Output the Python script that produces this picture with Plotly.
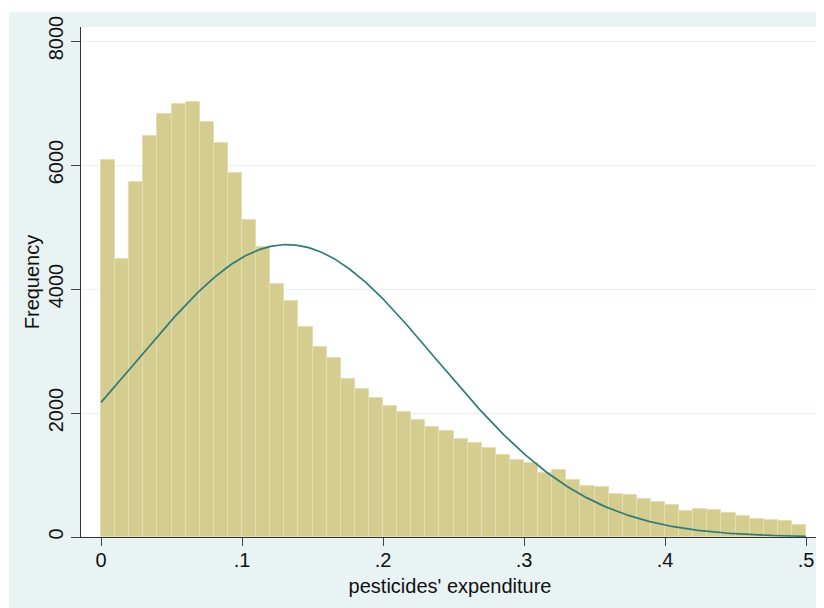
import numpy as np
import plotly.graph_objects as go

# Histogram bins (left edges) and frequencies
bin_width = 0.01
bin_left = [round(i * 0.01, 2) for i in range(50)]
freq = [6080, 4480, 5730, 6470, 6830, 6980, 7020, 6690, 6360, 5870,
        5120, 4670, 4080, 3800, 3390, 3060, 2890, 2550, 2380, 2240,
        2120, 2020, 1890, 1770, 1710, 1580, 1520, 1440, 1320, 1240,
        1190, 1030, 1080, 920, 830, 800, 700, 680, 610, 565,
        520, 425, 450, 430, 395, 335, 295, 280, 255, 195]

# Normal overlay parameters (estimated from the drawn curve)
norm_mean = 0.132
norm_sd = 0.106
n_obs = sum(freq)

x_ticks = [0, 0.1, 0.2, 0.3, 0.4, 0.5]
x_ticktext = ["0", ".1", ".2", ".3", ".4", ".5"]
y_ticks = [0, 2000, 4000, 6000, 8000]
y_ticktext = ["0", "2000", "4000", "6000", "8000"]

bar_x = [b + bin_width / 2 for b in bin_left]

xs = np.linspace(0, 0.5, 400)
ys = n_obs * bin_width / (norm_sd * np.sqrt(2 * np.pi)) * np.exp(-(xs - norm_mean) ** 2 / (2 * norm_sd ** 2))

FONT = "Liberation Sans, Arial, sans-serif"
BG = "#EAF3F4"
FS = 20

fig = go.Figure()
fig.add_trace(go.Bar(
    x=bar_x, y=freq, width=bin_width,
    marker=dict(color="#D4CD8F", line=dict(color="#E4DEB3", width=1)),
    hoverinfo="x+y", showlegend=False,
))
fig.add_trace(go.Scatter(
    x=xs, y=ys, mode="lines",
    line=dict(color="#2F7C77", width=1.7),
    showlegend=False, hoverinfo="skip",
))

# page body has an 8px margin, so the figure is drawn at (8, 8)
W, H = 816, 600
L, T = 73, 19
R, B = 5, 71
pw, ph = W - L - R, H - T - B

fig.update_layout(
    width=W, height=H,
    margin=dict(l=L, r=R, t=T, b=B, pad=0, autoexpand=False),
    paper_bgcolor="white",
    plot_bgcolor="white",
    bargap=0,
    font=dict(family=FONT, size=FS, color="#111111"),
    shapes=[
        dict(type="rect", xref="paper", yref="paper", layer="below",
             x0=(1 - L) / pw, x1=(W - L) / pw,
             y0=-B / ph, y1=(H - B - 4) / ph,
             fillcolor=BG, line=dict(width=0)),
        dict(type="rect", xref="paper", yref="paper", layer="below",
             x0=0, x1=1, y0=0, y1=1,
             fillcolor="white", line=dict(width=0)),
    ],
    xaxis=dict(
        range=[-0.0142, 0.5092],
        automargin=False,
        tickvals=x_ticks, ticktext=x_ticktext,
        ticks="outside", ticklen=8, tickwidth=1, tickcolor="#444444",
        ticklabelstandoff=-3,
        showline=True, linecolor="#333333", linewidth=1,
        showgrid=False, zeroline=False,
        tickfont=dict(size=FS),
        title=dict(text="pesticides' expenditure", font=dict(size=FS), standoff=8),
    ),
    yaxis=dict(
        range=[0, 8226],
        automargin=False,
        tickvals=y_ticks, ticktext=y_ticktext,
        tickangle=-90,
        ticks="outside", ticklen=9, tickwidth=1, tickcolor="#444444",
        ticklabelstandoff=0,
        showline=True, linecolor="#333333", linewidth=1,
        showgrid=True, gridcolor="#E8F1F2", gridwidth=1.2,
        zeroline=False,
        tickfont=dict(size=FS),
        title=dict(text="Frequency", font=dict(size=FS), standoff=0),
    ),
)

fig.write_html("out.html")
